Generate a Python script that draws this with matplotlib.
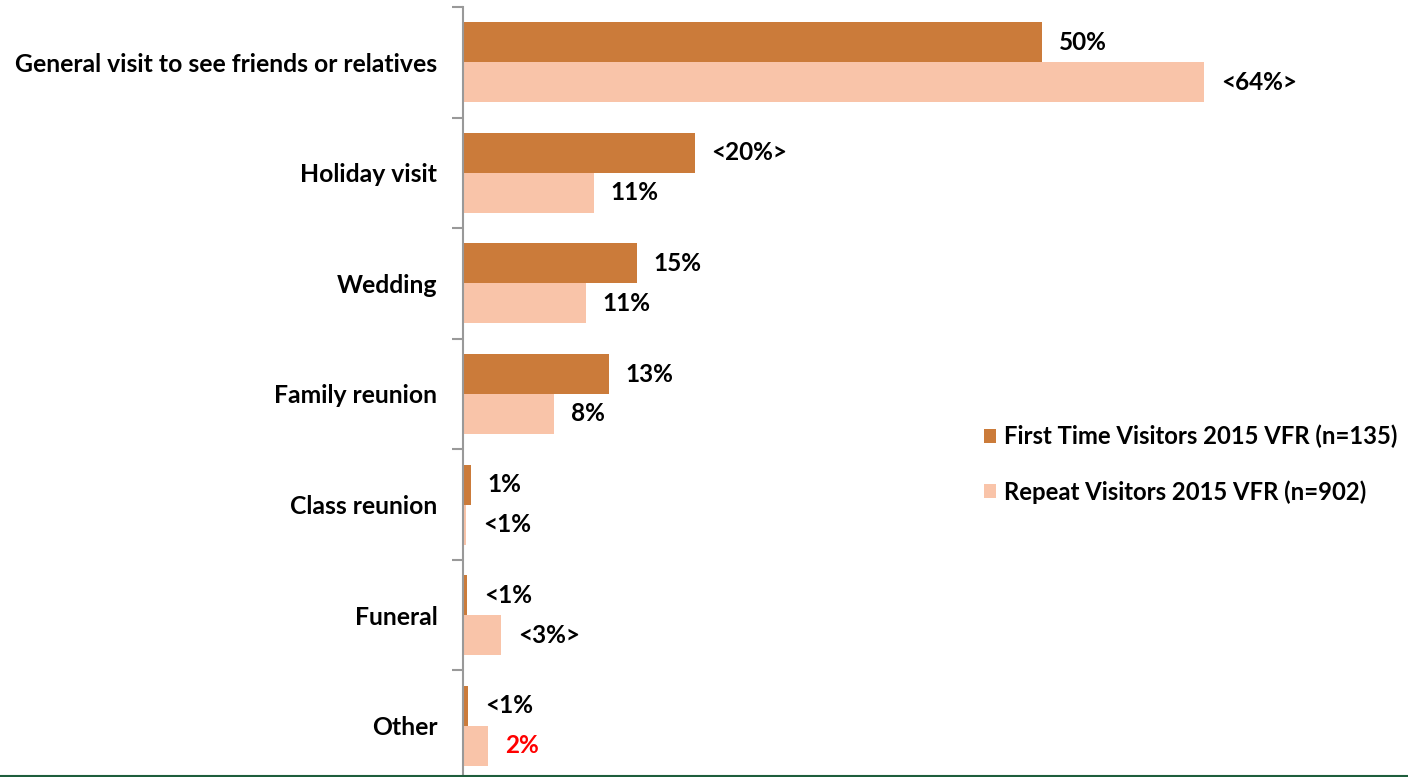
import matplotlib
matplotlib.use("Agg")
from matplotlib import pyplot as plt
from matplotlib.lines import Line2D
import numpy as np

plt.rcParams['font.family'] = ['Lato', 'DejaVu Sans']
plt.rcParams['font.weight'] = 'bold'

categories = ["General visit to see friends or relatives", "Holiday visit", "Wedding",
              "Family reunion", "Class reunion", "Funeral", "Other"]
first_time = [50, 20, 15, 12.6, 0.7, 0.35, 0.45]
repeat = [64, 11.3, 10.6, 7.9, 0.3, 3.3, 2.2]
first_labels = ["50%", "<20%>", "15%", "13%", "1%", "<1%", "<1%"]
repeat_labels = ["<64%>", "11%", "11%", "8%", "<1%", "<3%>", "2%"]
repeat_label_colors = ["black"] * 6 + ["#FF0000"]
series_names = ["First Time Visitors 2015 VFR (n=135)", "Repeat Visitors 2015 VFR (n=902)"]

DARK = "#CB7B3A"
LIGHT = "#F9C4A9"

W, H = 1408, 777
fig = plt.figure(figsize=(W / 100, H / 100), dpi=100)
# axis spans y 7..781 px (bottom goes just past the image edge)
ax = fig.add_axes([463 / W, 1 - 781 / H, (W - 463) / W, 774 / H])

n = len(categories)
y = np.arange(n)
bh = 40 / 110.6
ax.barh(y - bh / 2, first_time, height=bh, color=DARK, label=series_names[0])
ax.barh(y + bh / 2, repeat, height=bh, color=LIGHT, label=series_names[1])

for i in range(n):
    ax.annotate(first_labels[i], (first_time[i], y[i] - bh / 2), xytext=(12, 0),
                textcoords="offset points", va="center", ha="left",
                fontsize=17.5, fontweight="bold")
    ax.annotate(repeat_labels[i], (repeat[i], y[i] + bh / 2), xytext=(12, 0),
                textcoords="offset points", va="center", ha="left",
                fontsize=17.5, fontweight="bold", color=repeat_label_colors[i])

ax.set_ylim(n - 0.5, -0.5)
ax.set_xlim(0, (W - 463) / 11.58)
ax.set_yticks(np.arange(n + 1) - 0.5, minor=True)
ax.set_yticks(y)
ax.set_yticklabels(categories, fontsize=17.8, fontweight="bold")
ax.tick_params(axis="y", which="major", length=0, pad=18.5)
ax.tick_params(axis="y", which="minor", length=8, color="#999999", width=1.5)
ax.set_xticks([])
for s in ["top", "right", "bottom"]:
    ax.spines[s].set_visible(False)
ax.spines["left"].set_color("#999999")
ax.spines["left"].set_linewidth(1.5)

# green line along the bottom of the image
fig.add_artist(Line2D([0, 1], [1.5 / H, 1.5 / H], color="#1E5E3C", linewidth=1.5))

leg = ax.legend(loc="upper left", frameon=False,
                fontsize=17.2, handlelength=0.5, handleheight=0.5, handletextpad=0.35,
                labelspacing=1.32, borderaxespad=0, borderpad=0)
leg.set_bbox_to_anchor((984 / W, 1 - 425 / H), transform=fig.transFigure)
for t in leg.get_texts():
    t.set_fontweight("bold")

fig.savefig("out.png", dpi=100)
